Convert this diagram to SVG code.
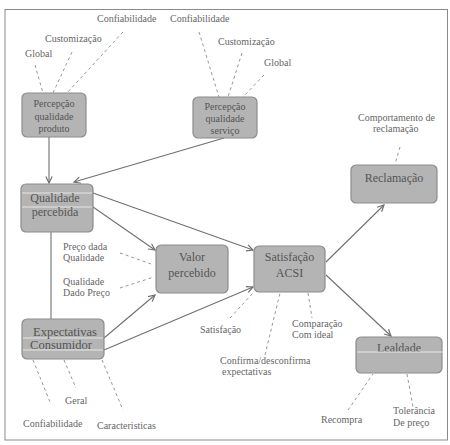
<svg xmlns="http://www.w3.org/2000/svg" width="450" height="445" viewBox="0 0 450 445">
<style>
.node rect.box{fill:#b4b4b4;stroke:#8c8c8c;stroke-width:1.2}
.nt{font-family:"Liberation Serif","Times New Roman",serif;font-size:12px;fill:#555;text-anchor:middle}
.ns{font-size:10px}
.lb{font-family:"Liberation Serif","Times New Roman",serif;font-size:10px;fill:#666}
.conn line{stroke:#707070;stroke-width:1.1;fill:none}
.conn line.arr{marker-end:url(#ah)}
.dash line{stroke:#8a8a8a;stroke-width:0.9;stroke-dasharray:3,3;fill:none}
.band{stroke:#e6e6e6;stroke-width:1.2}
</style>
<defs>
<marker id="ah" viewBox="0 0 10 10" refX="9" refY="5" markerWidth="8" markerHeight="8" markerUnits="userSpaceOnUse" orient="auto">
<path d="M1,1 L9,5 L1,9" fill="none" stroke="#707070" stroke-width="1.5"/>
</marker>
</defs>
<rect x="5" y="9.5" width="442.5" height="430.5" fill="#fff" stroke="#8a8a8a" stroke-width="1"/>

<g class="conn">
<line class="arr" x1="49" y1="137" x2="49" y2="183"/>
<line class="arr" x1="224" y1="138" x2="74" y2="182"/>
<line class="arr" x1="93" y1="193" x2="253" y2="250"/>
<line class="arr" x1="93" y1="207" x2="155" y2="250"/>
<line x1="51" y1="232" x2="51" y2="319"/>
<line class="arr" x1="104" y1="338" x2="155" y2="295"/>
<line class="arr" x1="104" y1="350" x2="253" y2="287"/>
<line class="arr" x1="326" y1="262" x2="384" y2="205"/>
<line class="arr" x1="326" y1="275" x2="391" y2="336"/>
</g>

<g class="dash">
<line x1="35" y1="65" x2="43" y2="93"/>
<line x1="72" y1="52" x2="53" y2="93"/>
<line x1="123" y1="32" x2="67" y2="93"/>
<line x1="199" y1="32" x2="219" y2="97"/>
<line x1="242" y1="53" x2="228" y2="97"/>
<line x1="264" y1="75" x2="243" y2="97"/>
<line x1="400" y1="147" x2="395" y2="164"/>
<line x1="120" y1="253" x2="154" y2="265"/>
<line x1="120" y1="288" x2="154" y2="277"/>
<line x1="230" y1="318" x2="253" y2="293"/>
<line x1="265" y1="355" x2="280" y2="293"/>
<line x1="308" y1="293" x2="312" y2="318"/>
<line x1="348" y1="410" x2="373" y2="374"/>
<line x1="407" y1="374" x2="413" y2="407"/>
<line x1="33" y1="360" x2="50" y2="402"/>
<line x1="64" y1="360" x2="76" y2="388"/>
<line x1="102" y1="360" x2="123" y2="410"/>
</g>

<g id="n-percepcao-produto" class="node">
<rect class="box" x="22" y="93" width="64" height="44" rx="5"/>
<text class="nt ns" x="54" y="107">Percepção</text>
<text class="nt ns" x="54" y="120">qualidade</text>
<text class="nt ns" x="54" y="132">produto</text>
</g>
<g id="n-percepcao-servico" class="node">
<rect class="box" x="193" y="97" width="64" height="41" rx="5"/>
<text class="nt ns" x="225" y="110">Percepção</text>
<text class="nt ns" x="225" y="122">qualidade</text>
<text class="nt ns" x="225" y="134">serviço</text>
</g>
<g id="n-qualidade-percebida" class="node">
<rect class="box" x="21" y="184" width="72" height="48" rx="5"/>
<line class="band" x1="22" y1="193" x2="92" y2="193"/>
<line class="band" x1="22" y1="207" x2="92" y2="207"/>
<text class="nt" x="55" y="202">Qualidade</text>
<text class="nt" x="55" y="216">percebida</text>
</g>
<g id="n-valor" class="node">
<rect class="box" x="156" y="245" width="72" height="48" rx="5"/>
<text class="nt" x="192" y="261">Valor</text>
<text class="nt" x="192" y="277">percebido</text>
</g>
<g id="n-satisfacao" class="node">
<rect class="box" x="254" y="246" width="71" height="46" rx="5"/>
<text class="nt" x="289.5" y="261">Satisfação</text>
<text class="nt" x="289.5" y="277">ACSI</text>
</g>
<g id="n-reclamacao" class="node">
<rect class="box" x="351" y="165" width="86" height="38" rx="5"/>
<text class="nt" x="394" y="182">Reclamação</text>
</g>
<g id="n-expectativas" class="node">
<rect class="box" x="22" y="319" width="82" height="40" rx="5"/>
<line class="band" x1="23" y1="338" x2="103" y2="338"/>
<line class="band" x1="23" y1="350" x2="103" y2="350"/>
<text class="nt" x="65" y="336" style="font-size:12.5px">Expectativas</text>
<text class="nt" x="61" y="349" style="font-size:12.5px">Consumidor</text>
</g>
<g id="n-lealdade" class="node">
<rect class="box" x="356" y="337" width="86" height="36" rx="5"/>
<text class="nt" x="399" y="352">Lealdade</text>
<line class="band" x1="357" y1="352" x2="443" y2="352"/>
</g>

<g id="labels">
<text class="lb" x="97" y="22">Confiabilidade</text>
<text class="lb" x="170" y="22">Confiabilidade</text>
<text class="lb" x="45" y="42">Customização</text>
<text class="lb" x="25" y="57">Global</text>
<text class="lb" x="218" y="45">Customização</text>
<text class="lb" x="264" y="66">Global</text>
<text class="lb" x="358" y="121">Comportamento de</text>
<text class="lb" x="373" y="132">reclamação</text>
<text class="lb" x="63" y="250">Preço dada</text>
<text class="lb" x="63" y="261">Qualidade</text>
<text class="lb" x="63" y="285">Qualidade</text>
<text class="lb" x="63" y="296">Dado Preço</text>
<text class="lb" x="200" y="333">Satisfação</text>
<text class="lb" x="292" y="327">Comparação</text>
<text class="lb" x="292" y="338">Com ideal</text>
<text class="lb" x="220" y="364">Confirma/desconfirma</text>
<text class="lb" x="222" y="375">expectativas</text>
<text class="lb" x="321" y="423">Recompra</text>
<text class="lb" x="393" y="414">Tolerância</text>
<text class="lb" x="393" y="426">De preço</text>
<text class="lb" x="65" y="404">Geral</text>
<text class="lb" x="23" y="427">Confiabilidade</text>
<text class="lb" x="97" y="429">Caracteristicas</text>
</g>
</svg>
